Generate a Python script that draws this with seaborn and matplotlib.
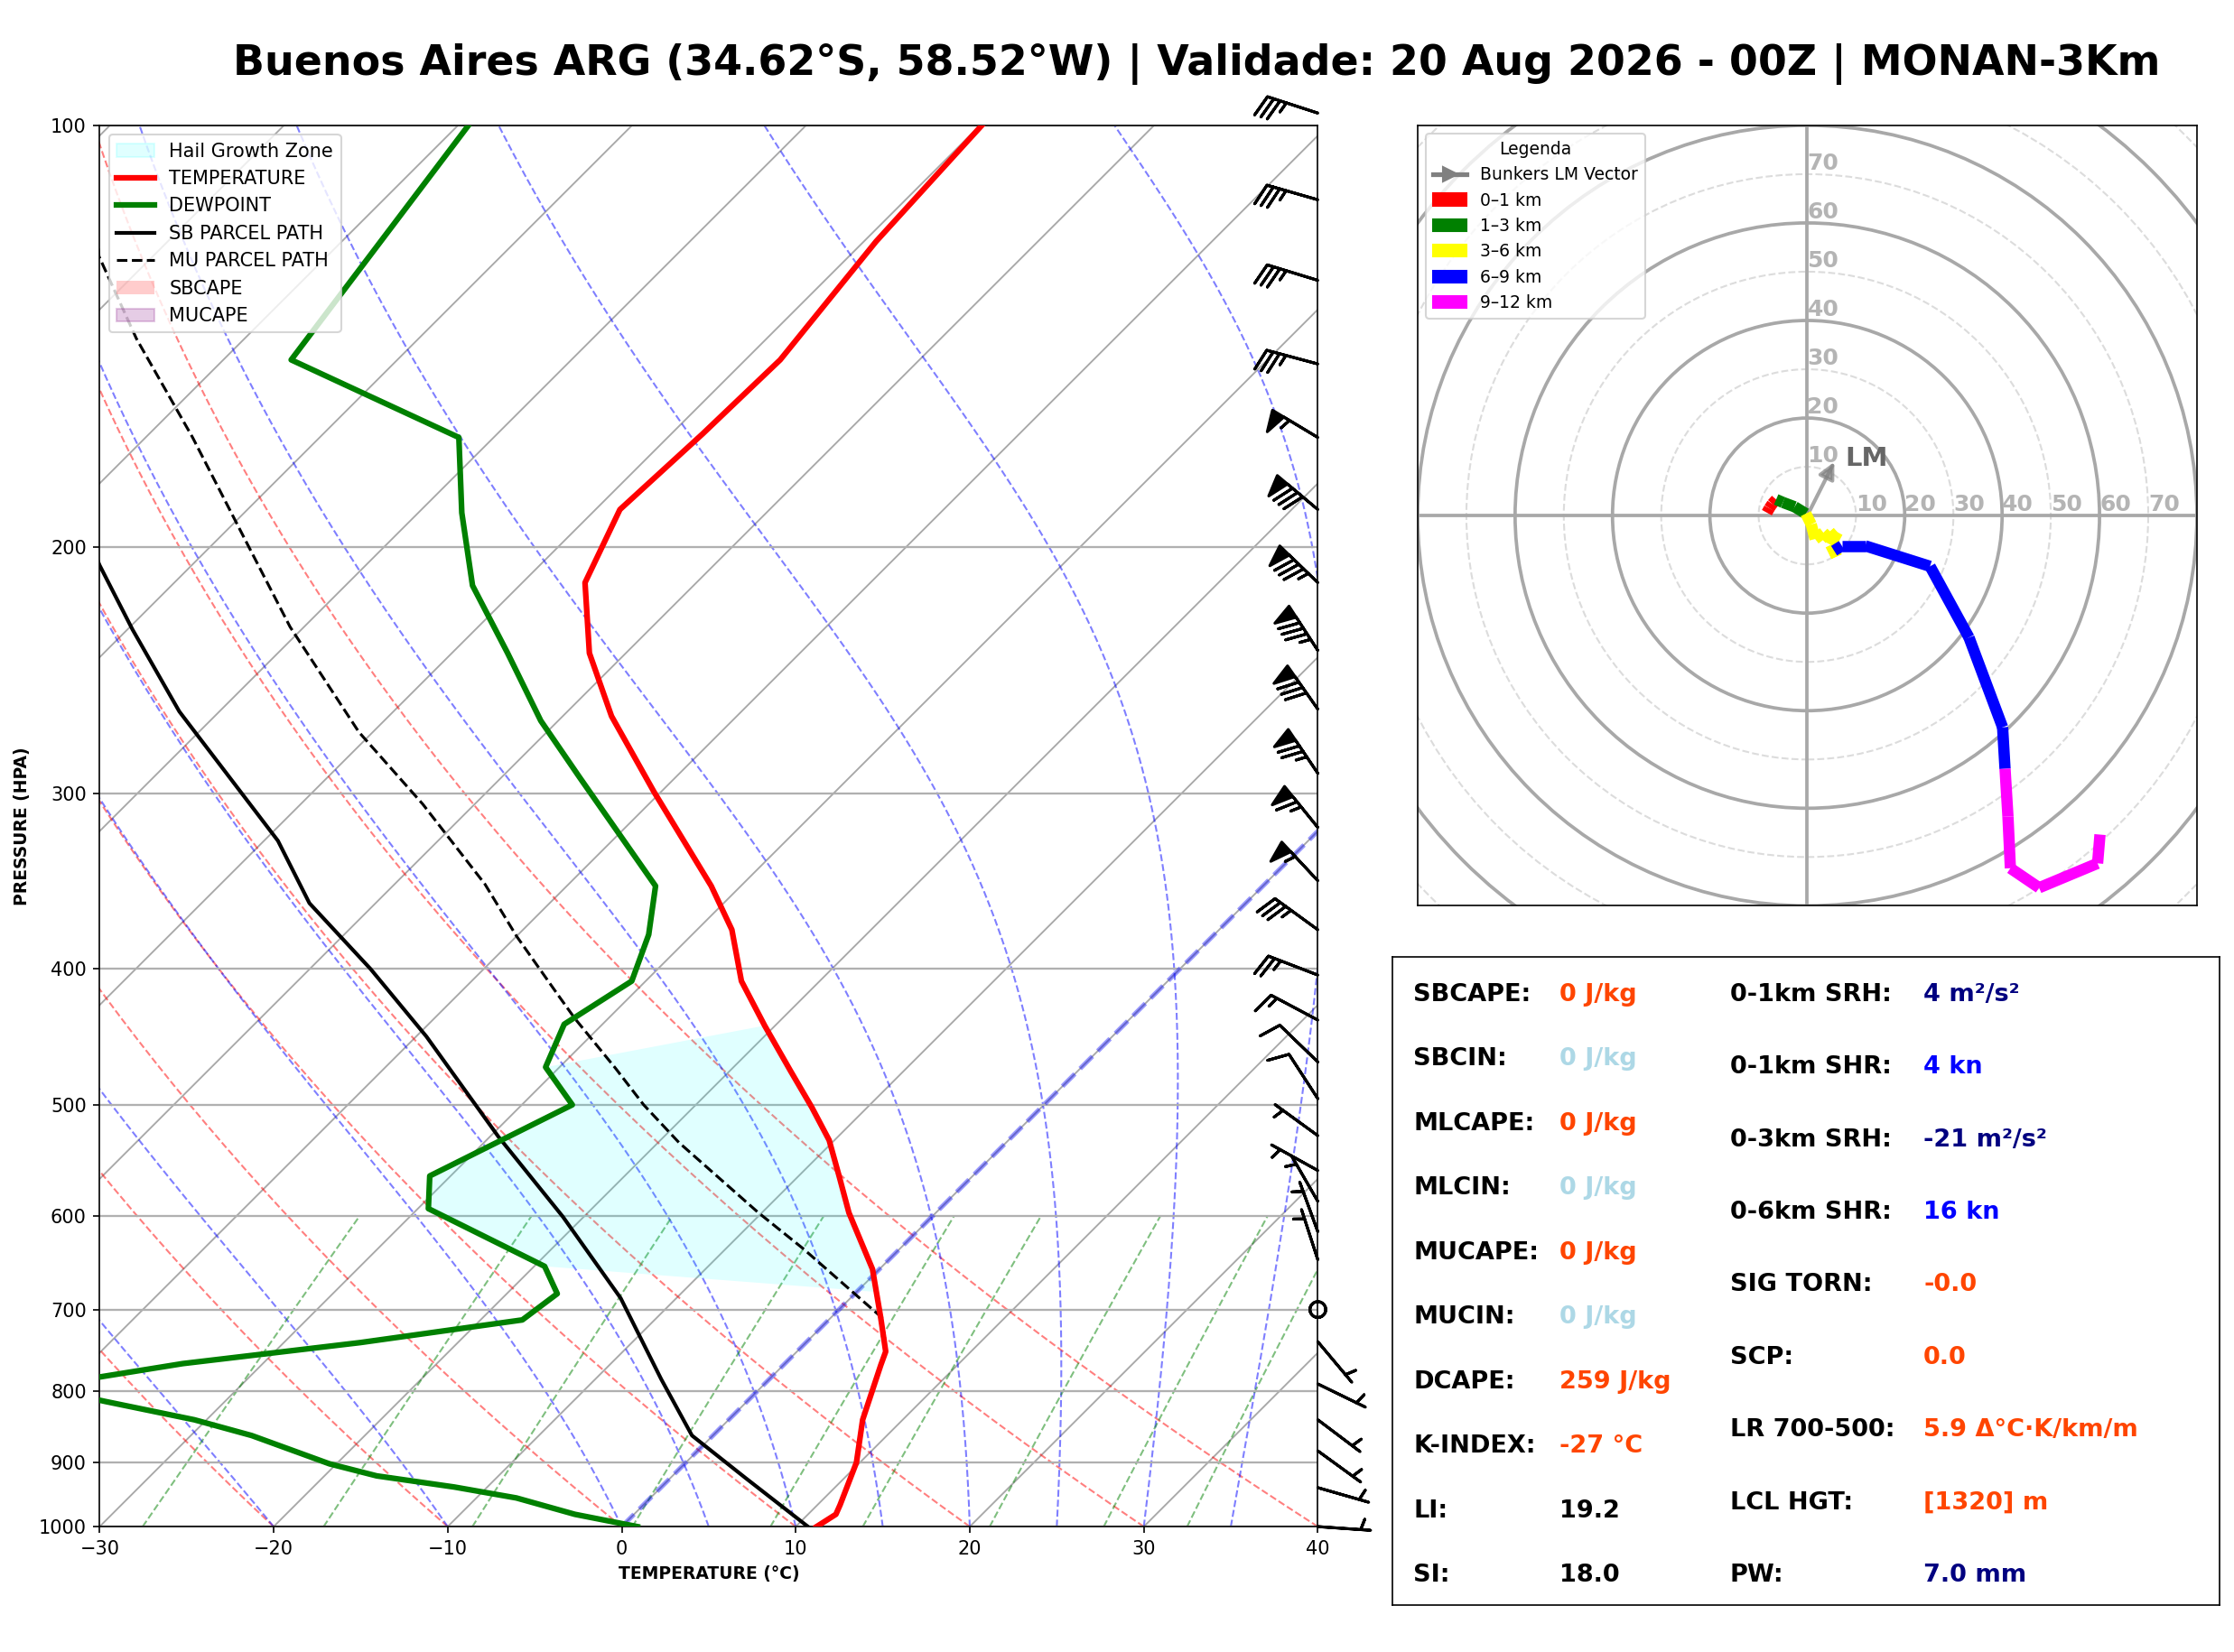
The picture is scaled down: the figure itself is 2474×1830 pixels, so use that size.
import numpy as np
import matplotlib
matplotlib.use("Agg")
import matplotlib.pyplot as plt
from matplotlib.patches import Patch
from matplotlib.lines import Line2D
from matplotlib.ticker import FixedLocator, FixedFormatter, NullLocator
import seaborn as sns

# ---------------- data ----------------
title = "Buenos Aires ARG (34.62°S, 58.52°W) | Validade: 20 Aug 2026 - 00Z | MONAN-3Km"

# environment temperature (hPa, degC)
p_temp = [1000, 980, 965, 900, 839, 767, 750, 710, 655, 597, 563, 530, 502, 473,
          439, 408, 375, 349, 299, 264, 238, 212, 188, 166, 147, 121, 100]
temp = [11.2, 11.6, 11.3, 9.8, 7.7, 5.6, 5.1, 2.9, -0.4, -5.0, -7.6, -10.3, -13.2, -16.5,
        -20.6, -24.5, -28.0, -31.7, -40.4, -47.2, -52.1, -56.4, -58.6, -58.2, -58.0, -59.3, -59.9]

# dewpoint
p_dewp = [1000, 980, 954, 937, 920, 902, 861, 839, 814, 797, 782, 765, 739, 712, 682, 652,
          593, 562, 500, 470, 438, 408, 378, 349, 292, 266, 238, 213, 189, 167, 147, 100]
dewp = [0.9, -3.4, -7.7, -11.9, -17.0, -20.4, -26.5, -30.7, -36.9, -41.0, -38.6, -34.6,
        -25.6, -17.6, -17.1, -19.4, -29.4, -31.2, -27.1, -30.8, -32.2, -30.8, -32.5, -34.9,
        -45.5, -51.0, -56.8, -62.7, -67.5, -72.0, -86.1, -89.4]

# surface based parcel
p_sb = [1000, 923, 861, 839, 785, 687, 601, 527, 447, 400, 359, 324, 262, 229, 206, 195]
t_sb = [10.7, 4.3, -1.2, -2.6, -6.2, -13.2, -21.2, -29.5, -39.4, -46.5, -53.8, -59.2,
        -72.3, -79.7, -85.3, -88.0]

# most unstable parcel
p_mu = [710, 633, 597, 532, 500, 471, 434, 417, 379, 348, 305, 271, 228, 193.5, 167, 142, 124, 115]
t_mu = [3.0, -5.6, -10.2, -18.8, -23.0, -26.7, -31.9, -34.3, -40.0, -44.8, -53.0, -60.8,
        -70.8, -79.5, -87.3, -96.2, -103.1, -106.0]

# hail growth zone edges (hPa)
hgz_temp_bottom, hgz_temp_top = 680, 439
hgz_dewp_top, hgz_dewp_bottom = 470, 652

# wind barbs (hPa, kt, deg)
p_wind = [98, 113, 129, 148, 167, 188, 212, 237, 261, 290, 317, 346, 375, 404, 435, 466,
          495, 526, 557, 586, 616, 645, 700, 738, 791, 839, 883, 938, 1000]
wspd = [35, 35, 35, 35, 55, 80, 85, 85, 80, 75, 65, 55, 35, 25, 15, 10,
        10, 5, 5, 5, 5, 5, 0, 5, 5, 5, 5, 5, 5]
wdir = [288, 286, 287, 285, 301, 310, 314, 327, 325, 326, 321, 317, 306, 291, 298, 314,
        327, 306, 299, 330, 340, 342, 0, 140, 116, 127, 126, 106, 94]

# hodograph layers (kt)
hodo_layers = ["0–1 km", "1–3 km", "3–6 km", "6–9 km", "9–12 km"]
hodo_colors = ["red", "green", "yellow", "blue", "magenta"]
hodo_u = [[-8.3, -7.8, -7.2, -6.4],
          [-6.4, -5.0, -2.6, -0.3],
          [-0.3, 0.8, 1.6, 3.3, 4.6, 6.2, 4.8, 6.0, 5.5],
          [5.5, 7.1, 11.9, 25.2, 33.2, 40.1, 40.6],
          [40.6, 41.2, 41.7, 47.6, 59.6, 60.1]]
hodo_v = [[0.6, 1.5, 2.4, 3.3],
          [3.3, 2.7, 1.8, 0.4],
          [0.4, -1.8, -4.8, -3.5, -4.8, -3.4, -6.0, -8.4, -7.2],
          [-7.2, -6.2, -6.2, -10.4, -25.0, -43.4, -51.9],
          [-51.9, -61.7, -72.3, -76.3, -71.3, -65.4]]
bunkers_lm = (5.9, 11.7)

# index panel
left_labels = ["SBCAPE:", "SBCIN:", "MLCAPE:", "MLCIN:", "MUCAPE:", "MUCIN:",
               "DCAPE:", "K-INDEX:", "LI:", "SI:"]
left_values = ["0 J/kg", "0 J/kg", "0 J/kg", "0 J/kg", "0 J/kg", "0 J/kg",
               "259 J/kg", "-27 °C", "19.2", "18.0"]
left_colors = ["orangered", "lightblue", "orangered", "lightblue", "orangered", "lightblue",
               "orangered", "orangered", "black", "black"]
right_labels = ["0-1km SRH:", "0-1km SHR:", "0-3km SRH:", "0-6km SHR:", "SIG TORN:",
                "SCP:", "LR 700-500:", "LCL HGT:", "PW:"]
right_values = ["4 m²/s²", "4 kn", "-21 m²/s²", "16 kn", "-0.0", "0.0",
                "5.9 Δ°C·K/km/m", "[1320] m", "7.0 mm"]
right_colors = ["navy", "blue", "navy", "blue", "orangered", "orangered",
                "orangered", "orangered", "navy"]

# ---------------- helpers ----------------
SKEW = 35.0


def skew_x(t, p):
    return np.asarray(t, float) + SKEW * np.log(1000.0 / np.asarray(p, float))


def moist_adiabat(t0_c, pres):
    Rd, Cp, Lv, eps = 287.04, 1005.7, 2.501e6, 0.622

    def dtdp(T, p):
        es = 6.112 * np.exp(17.67 * (T - 273.15) / (T - 29.65))
        rs = eps * es / (p - es)
        return (Rd * T + Lv * rs) / (Cp + Lv ** 2 * rs * eps / (Rd * T ** 2)) / p

    out = [t0_c + 273.15]
    for i in range(1, len(pres)):
        T, p0, h = out[-1], pres[i - 1], pres[i] - pres[i - 1]
        k1 = dtdp(T, p0)
        k2 = dtdp(T + h * k1 / 2, p0 + h / 2)
        k3 = dtdp(T + h * k2 / 2, p0 + h / 2)
        k4 = dtdp(T + h * k3, p0 + h)
        out.append(T + h * (k1 + 2 * k2 + 2 * k3 + k4) / 6)
    return np.array(out) - 273.15


# ---------------- figure ----------------
fig = plt.figure(figsize=(2474 / 150, 1830 / 150), dpi=150)
fig.suptitle(title, fontsize=22, fontweight="bold", x=0.5357, y=0.961, va="center")

ax = fig.add_axes([0.0446, 0.0759, 0.5453, 0.8482])
ax.set_yscale("log")

pp = np.logspace(3, 2, 200)
# isotherms
for t0 in range(-120, 50, 10):
    ax.plot(skew_x(np.full_like(pp, t0), pp), pp, color="#a8a8a8", lw=0.9, zorder=1)
# dry adiabats
for t0 in range(-40, 50, 10):
    tk = (t0 + 273.15) * (pp / 1000.0) ** 0.2857 - 273.15
    ax.plot(skew_x(tk, pp), pp, color="red", ls="--", lw=1, alpha=0.5, zorder=1)
# moist adiabats
for t0 in [-40, -30, -20, -10, 0, 5, 10, 15, 20, 25, 30, 35]:
    ax.plot(skew_x(moist_adiabat(t0, pp), pp), pp, color="blue", ls="--", lw=1,
            alpha=0.5, zorder=1)
# mixing ratio lines
pm = np.linspace(1000, 600, 50)
for w in [0.0004, 0.001, 0.002, 0.004, 0.007, 0.01, 0.016, 0.024, 0.032]:
    e = pm * w / (0.622 + w)
    ln_e = np.log(e / 6.112)
    td = 243.5 * ln_e / (17.67 - ln_e)
    ax.plot(skew_x(td, pm), pm, color="green", ls="--", lw=1, alpha=0.5, zorder=1)
# 0 C isotherm
ax.plot(skew_x(np.zeros_like(pp), pp), pp, color="blue", ls="--", lw=2.5, alpha=0.4, zorder=2)

# hail growth zone polygon
lp_t = np.log(p_temp[::-1]); tt = np.array(temp[::-1])
lp_d = np.log(p_dewp[::-1]); dd = np.array(dewp[::-1])
ph_t = np.linspace(hgz_temp_bottom, hgz_temp_top, 60)
ph_d = np.linspace(hgz_dewp_top, hgz_dewp_bottom, 60)
hx = np.concatenate([skew_x(np.interp(np.log(ph_t), lp_t, tt), ph_t),
                     skew_x(np.interp(np.log(ph_d), lp_d, dd), ph_d)])
hy = np.concatenate([ph_t, ph_d])
ax.fill(hx, hy, color="cyan", alpha=0.12, lw=0, zorder=2)

# profiles
sns.lineplot(x=skew_x(temp, p_temp), y=p_temp, sort=False, estimator=None,
             color="red", lw=3, ax=ax, zorder=5)
sns.lineplot(x=skew_x(dewp, p_dewp), y=p_dewp, sort=False, estimator=None,
             color="green", lw=3, ax=ax, zorder=5)
sns.lineplot(x=skew_x(t_sb, p_sb), y=p_sb, sort=False, estimator=None,
             color="black", lw=2, ax=ax, zorder=4)
ax.plot(skew_x(t_mu, p_mu), p_mu, color="black", ls="--", lw=1.5, zorder=4)

# wind barbs at the right edge (southern hemisphere: flipped)
rad = np.deg2rad(wdir)
u = -np.array(wspd) * np.sin(rad)
v = -np.array(wspd) * np.cos(rad)
ax.barbs(np.full(len(p_wind), 40.0), p_wind, u, v, length=7.5, lw=1.5,
         flip_barb=True, clip_on=False, zorder=6)

ax.set_xlim(-30, 40)
ax.set_ylim(1000, 100)
ax.yaxis.set_major_locator(FixedLocator(range(100, 1001, 100)))
ax.yaxis.set_major_formatter(FixedFormatter([str(v_) for v_ in range(100, 1001, 100)]))
ax.yaxis.set_minor_locator(NullLocator())
ax.set_xticks(range(-30, 41, 10))
ax.yaxis.grid(True, color="#b0b0b0", lw=1.1)
ax.set_xlabel("TEMPERATURE (°C)", fontsize=9, fontweight="bold")
ax.set_ylabel("PRESSURE (HPA)", fontsize=9, fontweight="bold")

handles = [Patch(facecolor="cyan", edgecolor="cyan", alpha=0.12, label="Hail Growth Zone"),
           Line2D([], [], color="red", lw=3, label="TEMPERATURE"),
           Line2D([], [], color="green", lw=3, label="DEWPOINT"),
           Line2D([], [], color="black", lw=2, label="SB PARCEL PATH"),
           Line2D([], [], color="black", lw=1.5, ls="--", label="MU PARCEL PATH"),
           Patch(facecolor="red", alpha=0.2, label="SBCAPE"),
           Patch(facecolor="purple", edgecolor="purple", alpha=0.2, label="MUCAPE")]
ax.legend(handles=handles, loc="upper left", fontsize=10)

# ---------------- hodograph ----------------
hx_ax = fig.add_axes([0.6346, 0.4517, 0.3488, 0.4724])
for r in range(10, 120, 10):
    circ = plt.Circle((0, 0), r, fill=False,
                      color="#a8a8a8" if r % 20 == 0 else "#dcdcdc",
                      lw=1.8 if r % 20 == 0 else 1.0,
                      ls="-" if r % 20 == 0 else "--")
    hx_ax.add_patch(circ)
hx_ax.axhline(0, color="#a8a8a8", lw=1.8)
hx_ax.axvline(0, color="#a8a8a8", lw=1.8)
for r in range(10, 80, 10):
    hx_ax.text(r, 0, str(r), ha="left", va="bottom", color="#b4b4b4",
               fontsize=12, fontweight="bold")
    hx_ax.text(0, r, str(r), ha="left", va="bottom", color="#b4b4b4",
               fontsize=12, fontweight="bold")

for us, vs, col in zip(hodo_u, hodo_v, hodo_colors):
    for i in range(len(us) - 1):
        hx_ax.plot(us[i:i + 2], vs[i:i + 2], color=col, lw=6, solid_capstyle="butt", zorder=4)

hx_ax.annotate("", xy=bunkers_lm, xytext=(0, 0),
               arrowprops=dict(arrowstyle="-|>", color="gray", lw=2, alpha=0.7,
                               mutation_scale=18))
hx_ax.text(bunkers_lm[0] + 1.8, bunkers_lm[1], "LM", fontsize=14, fontweight="bold",
           color="#666666", ha="left", va="center")

hx_ax.set_xlim(-80, 80)
hx_ax.set_ylim(-80, 80)
hx_ax.set_xticks([])
hx_ax.set_yticks([])

hodo_handles = [Line2D([], [], color="gray", lw=2.5, marker=">", markersize=8,
                       label="Bunkers LM Vector")]
hodo_handles += [Patch(color=c, label=l) for c, l in zip(hodo_colors, hodo_layers)]
hx_ax.legend(handles=hodo_handles, loc="upper left", title="Legenda", fontsize=9,
             title_fontsize=9)

# ---------------- index panel ----------------
ix = fig.add_axes([0.6231, 0.0284, 0.3705, 0.3923])
ix.set_xticks([])
ix.set_yticks([])
ix.set_xlim(0, 1)
ix.set_ylim(0, 1)
for i, (lab, val, col) in enumerate(zip(left_labels, left_values, left_colors)):
    y = 0.942 - 0.0996 * i
    ix.text(0.026, y, lab, fontsize=13, fontweight="bold", va="center", color="black")
    ix.text(0.202, y, val, fontsize=13, fontweight="bold", va="center", color=col)
for i, (lab, val, col) in enumerate(zip(right_labels, right_values, right_colors)):
    y = 0.942 - 0.112 * i
    ix.text(0.408, y, lab, fontsize=13, fontweight="bold", va="center", color="black")
    ix.text(0.642, y, val, fontsize=13, fontweight="bold", va="center", color=col)

fig.savefig("out.png", dpi=150)
